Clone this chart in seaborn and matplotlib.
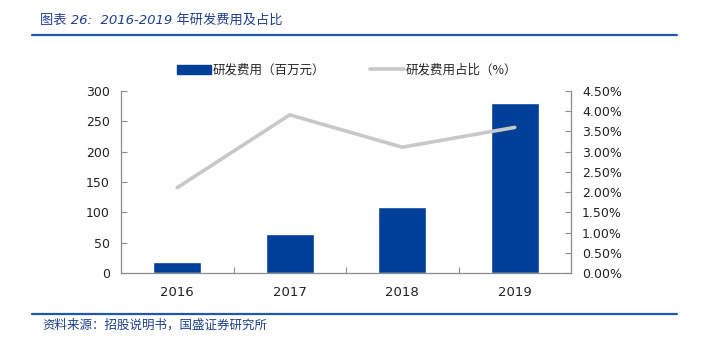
import matplotlib
matplotlib.use("Agg")
import matplotlib.pyplot as plt
import seaborn as sns
import pandas as pd
from matplotlib.lines import Line2D
from matplotlib.patches import Patch
from matplotlib.ticker import FuncFormatter, MultipleLocator

years = ["2016", "2017", "2018", "2019"]
rd_expense = [17.6, 63.7, 108.7, 279.5]
rd_ratio = [2.11, 3.91, 3.11, 3.60]
title = "图表 26:  2016-2019 年研发费用及占比"
source = "资料来源：招股说明书，国盛证券研究所"
bar_label = "研发费用（百万元）"
line_label = "研发费用占比（%）"

sns.set_theme(style="white")
plt.rcParams["font.family"] = ["DejaVu Sans", "Noto Sans CJK SC"]

df = pd.DataFrame({"year": years, "expense": rd_expense, "ratio": rd_ratio})

bar_color = "#003f98"
line_color = "#c8c8c8"
navy = "#1f3f8f"

fig = plt.figure(figsize=(7.03, 3.46), dpi=100)
ax = fig.add_axes([121/703, 73/346, 450/703, 182/346])
sns.barplot(data=df, x="year", y="expense", color=bar_color, saturation=1,
            width=0.43, ax=ax)
ax.set_xlim(-0.5, 3.5)
ax.set_ylim(0, 300)
ax.yaxis.set_major_locator(MultipleLocator(50))
ax.set_xlabel("")
ax.set_ylabel("")

ax2 = ax.twinx()
sns.lineplot(data=df, x="year", y="ratio", color=line_color, linewidth=2.6,
             ax=ax2, sort=False)
ax2.set_ylim(0, 4.5)
ax2.yaxis.set_major_locator(MultipleLocator(0.5))
ax2.yaxis.set_major_formatter(FuncFormatter(lambda v, p: f"{v:.2f}%"))
ax2.set_ylabel("")
ax2.set_xlim(-0.5, 3.5)

spine_c = "#8c8c8c"
for a in (ax, ax2):
    for s in a.spines.values():
        s.set_visible(False)
ax.spines["left"].set_visible(True)
ax.spines["bottom"].set_visible(True)
ax2.spines["right"].set_visible(True)
for s in (ax.spines["left"], ax.spines["bottom"], ax2.spines["right"]):
    s.set_color(spine_c)
    s.set_linewidth(0.9)

ax.tick_params(axis="y", direction="in", length=4, color=spine_c, width=0.8,
               labelsize=9, labelcolor="#222222", left=True, pad=8)
ax2.tick_params(axis="y", direction="in", length=4, color=spine_c, width=0.8,
                labelsize=9, labelcolor="#222222", right=True, pad=8)
ax.set_xticks([0, 1, 2, 3])
ax.set_xticklabels(years)
ax.set_xticks([0.5, 1.5, 2.5], minor=True)
ax.tick_params(axis="x", which="major", length=0, labelsize=9.5,
               labelcolor="#222222", pad=9)
ax.tick_params(axis="x", which="minor", direction="in", length=4,
               color=spine_c, width=0.8, bottom=True)
ax2.grid(False)
ax.grid(False)

handles = [Patch(facecolor=bar_color, edgecolor=bar_color),
           Line2D([0], [0], color=line_color, linewidth=2.6)]
fig.legend(handles, [bar_label, line_label], loc="center",
           bbox_to_anchor=(347/703, 1 - 70/346), ncol=2, frameon=False,
           handlelength=2.7, handleheight=0.7, handletextpad=0.15,
           columnspacing=3.6, prop={"family": ["Noto Sans CJK SC"], "size": 9})

fig.text(40/703, 1 - 20/346, title, fontsize=9.5, color=navy,
         style="italic", va="center", ha="left")
fig.add_artist(Line2D([32/703, 677/703], [1 - 35/346, 1 - 35/346],
                      color="#1f56b0", linewidth=1.6, transform=fig.transFigure))
fig.add_artist(Line2D([32/703, 677/703], [1 - 314/346, 1 - 314/346],
                      color="#1f56b0", linewidth=1.6, transform=fig.transFigure))
fig.text(42/703, 1 - 325/346, source, fontsize=9, color=navy,
         style="italic", va="center", ha="left")

fig.savefig("out.png", dpi=100)
